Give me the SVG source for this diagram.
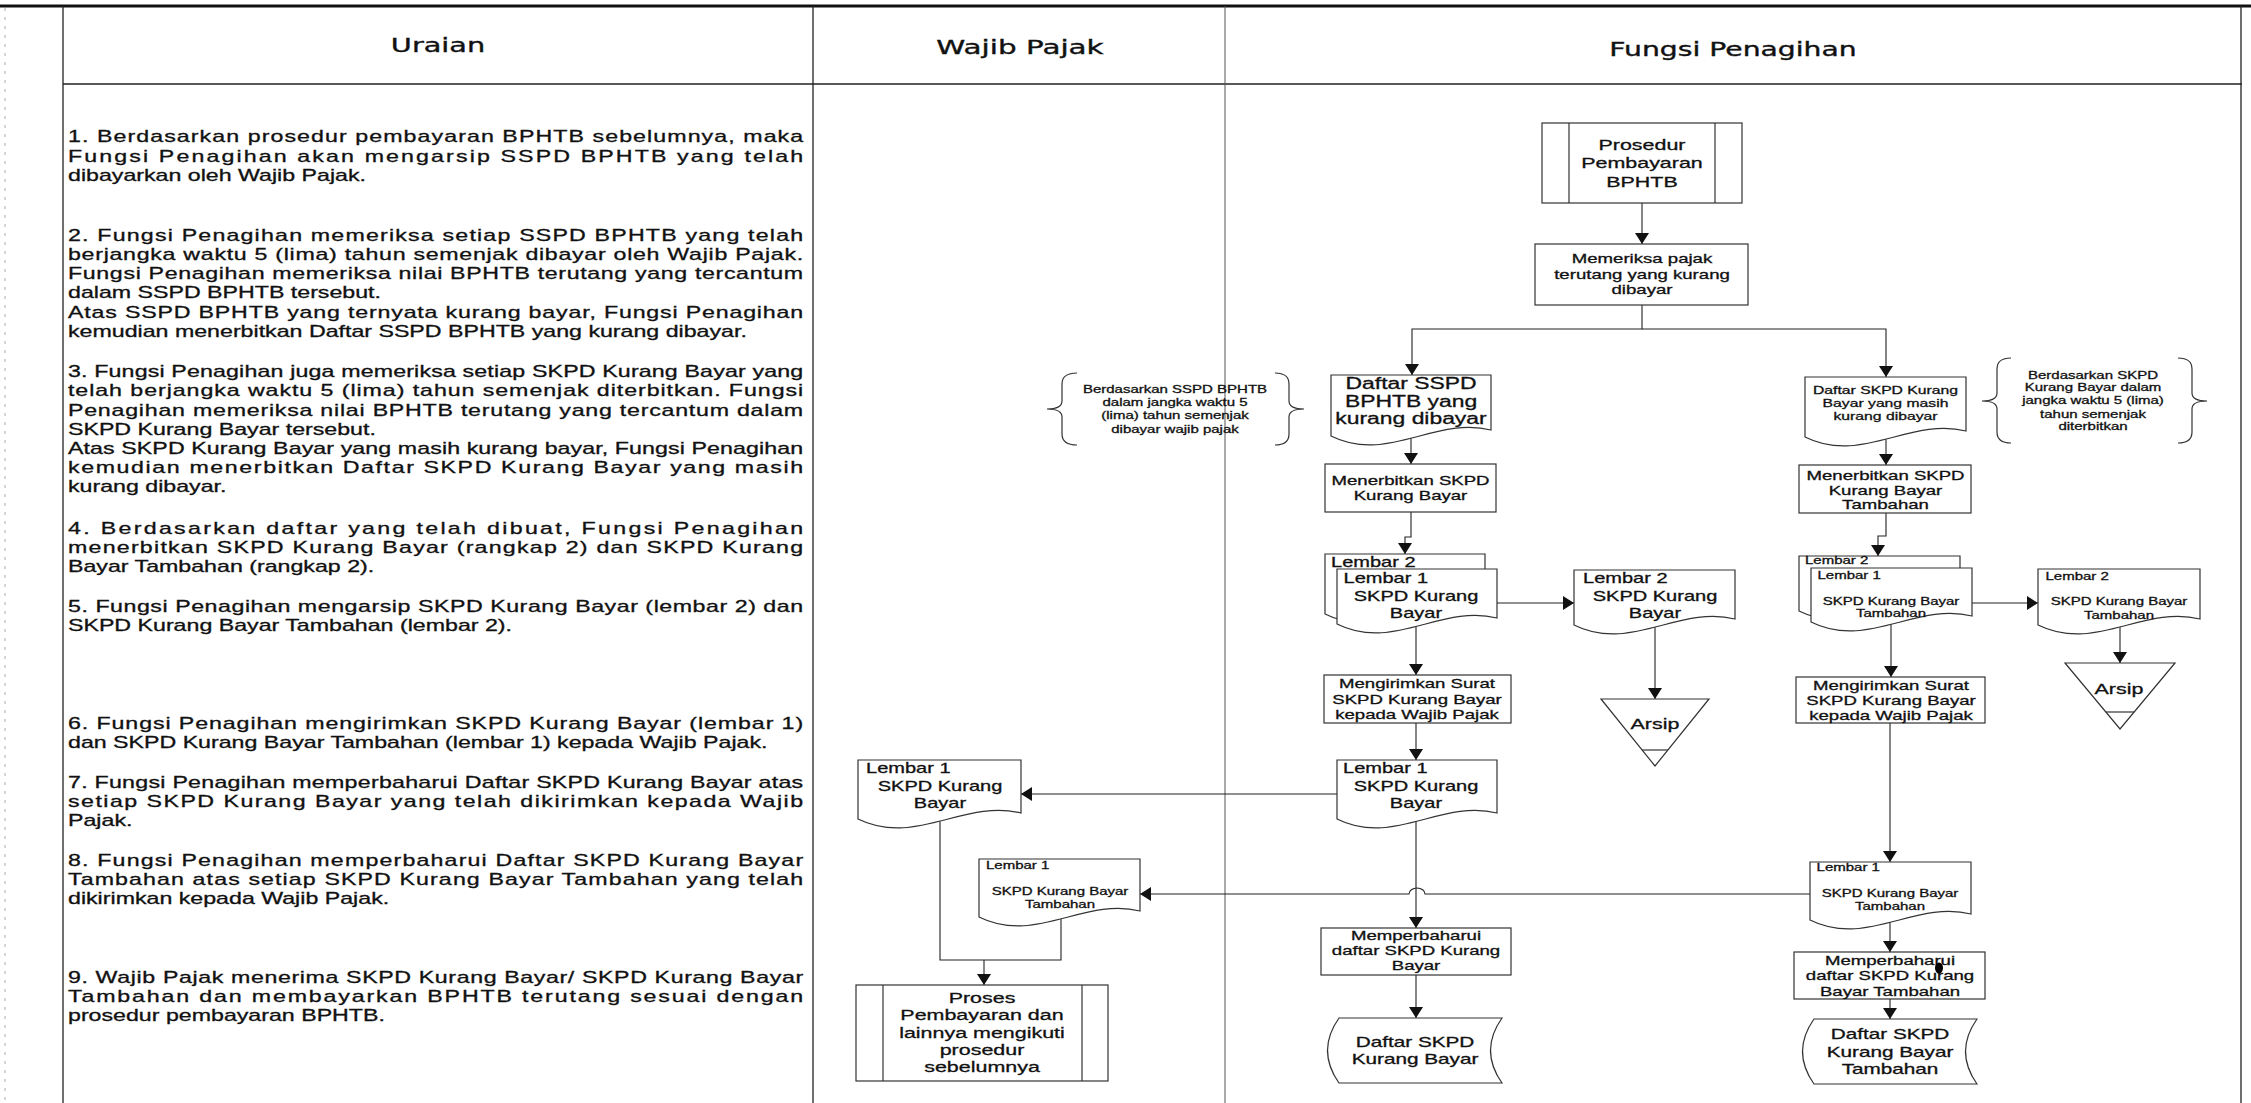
<svg xmlns="http://www.w3.org/2000/svg" width="2251" height="1103" viewBox="0 0 2251 1103">
<style>
.ln{stroke:#222;stroke-width:1.3;fill:none}
.ln2{stroke:#555;stroke-width:1;fill:none}
.art{stroke:#aaa;stroke-width:1;stroke-dasharray:3 6;fill:none}
.sh{stroke:#333;stroke-width:1.2;fill:#fff}
.br{stroke:#333;stroke-width:1.2;fill:none}
.cn{stroke:#222;stroke-width:1.1;fill:none}
.ca{stroke:#222;stroke-width:1.1;fill:none;marker-end:url(#ah)}
.h{font-family:"DejaVu Sans","Liberation Sans",sans-serif;font-size:19px;fill:#111;stroke:#111;stroke-width:0.35;text-anchor:middle}
.b{font-family:"Liberation Sans",Arial,sans-serif;font-size:16px;fill:#111;stroke:#111;stroke-width:0.3}
.t{font-family:"Liberation Sans",Arial,sans-serif;fill:#111;stroke:#111;stroke-width:0.3;text-anchor:middle}
.s{text-anchor:start}
</style>
<defs>
<marker id="ah" markerUnits="userSpaceOnUse" markerWidth="11" markerHeight="14" refX="11" refY="7" orient="auto">
<path d="M0,0 L11,7 L0,14 Z" fill="#111"/>
</marker>
</defs>
<rect width="2251" height="1103" fill="#fff"/>

<g id="table">
<line class="art" x1="5" y1="8" x2="5" y2="1103"/>
<line x1="0" y1="6" x2="2251" y2="6" stroke="#111" stroke-width="3"/>
<line class="ln" x1="63" y1="84" x2="2242" y2="84"/>
<line class="ln" x1="63" y1="6" x2="63" y2="1103"/>
<line class="ln" x1="813" y1="6" x2="813" y2="1103"/>
<line class="ln2" x1="1225" y1="6" x2="1225" y2="1103"/>
<line class="ln" x1="2241" y1="6" x2="2241" y2="1103" stroke-width="1.6"/>
<text class="h" transform="translate(438,0) scale(1.43,1)" x="0" y="52" textLength="66" lengthAdjust="spacingAndGlyphs">Uraian</text>
<text class="h" transform="translate(1020,0) scale(1.43,1)" x="0" y="54" textLength="117" lengthAdjust="spacingAndGlyphs">Wajib Pajak</text>
<text class="h" transform="translate(1733,0) scale(1.43,1)" x="0" y="56" textLength="173" lengthAdjust="spacingAndGlyphs">Fungsi Penagihan</text>
</g>

<g id="uraian" class="b" transform="translate(68,0) scale(1.45,1)">
<text x="0" y="142.5" textLength="507">1. Berdasarkan prosedur pembayaran BPHTB sebelumnya, maka</text>
<text x="0" y="161.7" textLength="507">Fungsi Penagihan akan mengarsip SSPD BPHTB yang telah</text>
<text x="0" y="180.9">dibayarkan oleh Wajib Pajak.</text>
<text x="0" y="240.8" textLength="507">2. Fungsi Penagihan memeriksa setiap SSPD BPHTB yang telah</text>
<text x="0" y="260" textLength="507">berjangka waktu 5 (lima) tahun semenjak dibayar oleh Wajib Pajak.</text>
<text x="0" y="279.2" textLength="507">Fungsi Penagihan memeriksa nilai BPHTB terutang yang tercantum</text>
<text x="0" y="298.4">dalam SSPD BPHTB tersebut.</text>
<text x="0" y="317.6" textLength="507">Atas SSPD BPHTB yang ternyata kurang bayar, Fungsi Penagihan</text>
<text x="0" y="336.8">kemudian menerbitkan Daftar SSPD BPHTB yang kurang dibayar.</text>
<text x="0" y="377.3" textLength="507">3. Fungsi Penagihan juga memeriksa setiap SKPD Kurang Bayar yang</text>
<text x="0" y="396.5" textLength="507">telah berjangka waktu 5 (lima) tahun semenjak diterbitkan. Fungsi</text>
<text x="0" y="415.7" textLength="507">Penagihan memeriksa nilai BPHTB terutang yang tercantum dalam</text>
<text x="0" y="434.9">SKPD Kurang Bayar tersebut.</text>
<text x="0" y="454.1" textLength="507">Atas SKPD Kurang Bayar yang masih kurang bayar, Fungsi Penagihan</text>
<text x="0" y="473.3" textLength="507">kemudian menerbitkan Daftar SKPD Kurang Bayar yang masih</text>
<text x="0" y="492.5">kurang dibayar.</text>
<text x="0" y="533.8" textLength="507">4. Berdasarkan daftar yang telah dibuat, Fungsi Penagihan</text>
<text x="0" y="553" textLength="507">menerbitkan SKPD Kurang Bayar (rangkap 2) dan SKPD Kurang</text>
<text x="0" y="572.2">Bayar Tambahan (rangkap 2).</text>
<text x="0" y="611.8" textLength="507">5. Fungsi Penagihan mengarsip SKPD Kurang Bayar (lembar 2) dan</text>
<text x="0" y="631">SKPD Kurang Bayar Tambahan (lembar 2).</text>
<text x="0" y="729.3" textLength="507">6. Fungsi Penagihan mengirimkan SKPD Kurang Bayar (lembar 1)</text>
<text x="0" y="748.5">dan SKPD Kurang Bayar Tambahan (lembar 1) kepada Wajib Pajak.</text>
<text x="0" y="787.8" textLength="507">7. Fungsi Penagihan memperbaharui Daftar SKPD Kurang Bayar atas</text>
<text x="0" y="807" textLength="507">setiap SKPD Kurang Bayar yang telah dikirimkan kepada Wajib</text>
<text x="0" y="826.2">Pajak.</text>
<text x="0" y="865.8" textLength="507">8. Fungsi Penagihan memperbaharui Daftar SKPD Kurang Bayar</text>
<text x="0" y="885" textLength="507">Tambahan atas setiap SKPD Kurang Bayar Tambahan yang telah</text>
<text x="0" y="904.2">dikirimkan kepada Wajib Pajak.</text>
<text x="0" y="982.8" textLength="507">9. Wajib Pajak menerima SKPD Kurang Bayar/ SKPD Kurang Bayar</text>
<text x="0" y="1002" textLength="507">Tambahan dan membayarkan BPHTB terutang sesuai dengan</text>
<text x="0" y="1021.2">prosedur pembayaran BPHTB.</text>
</g>

<g id="connectors">
<path class="ca" d="M1642,203 V244"/>
<path class="ca" d="M1642,305 V329 H1412 V375"/>
<path class="ca" d="M1642,329 H1886 V377"/>
<path class="ca" d="M1411,436 V464"/>
<path class="ca" d="M1411,512 V537 H1405 V554"/>
<path class="ca" d="M1497,603 H1574"/>
<path class="ca" d="M1655,622 V699"/>
<path class="ca" d="M1416,624 V675"/>
<path class="ca" d="M1416,723 V760"/>
<path class="ca" d="M1337,794 H1021"/>
<path class="ca" d="M1416,819 V928"/>
<path class="ca" d="M1416,975 V1018"/>
<path class="ca" d="M1886,437 V465"/>
<path class="ca" d="M1886,513 V536 H1878 V556"/>
<path class="ca" d="M1972,603 H2038"/>
<path class="ca" d="M2120,622 V663"/>
<path class="ca" d="M1891,622 V677"/>
<path class="ca" d="M1890,723 V862"/>
<path class="ca" d="M1810,894 H1425 A8,6 0 0 0 1409,894 H1140"/>
<path class="ca" d="M1890,920 V952"/>
<path class="ca" d="M1890,999 V1019"/>
<path class="cn" d="M1061,915 V960 H940 V819"/>
<path class="ca" d="M984,960 V985"/>
</g>

<g id="n-prosedur">
<rect class="sh" x="1542" y="123" width="200" height="80"/>
<line class="br" x1="1569" y1="123" x2="1569" y2="203"/>
<line class="br" x1="1715" y1="123" x2="1715" y2="203"/>
<text class="t" font-size="15" transform="translate(1642,0) scale(1.43,1)"><tspan x="0" y="150.4">Prosedur</tspan><tspan x="0" y="168">Pembayaran</tspan><tspan x="0" y="187">BPHTB</tspan></text>
</g>

<g id="n-memeriksa">
<rect class="sh" x="1535" y="244" width="213" height="61"/>
<text class="t" font-size="13" transform="translate(1642,0) scale(1.43,1)"><tspan x="0" y="263.4">Memeriksa pajak</tspan><tspan x="0" y="279">terutang yang kurang</tspan><tspan x="0" y="294">dibayar</tspan></text>
</g>

<g id="n-daftar-sspd">
<path class="sh" d="M1331,375 H1491 V430 C1435,416 1387,464 1331,436 Z"/>
<text class="t" font-size="16" transform="translate(1411,0) scale(1.43,1)"><tspan x="0" y="389">Daftar SSPD</tspan><tspan x="0" y="406.8">BPHTB yang</tspan><tspan x="0" y="424">kurang dibayar</tspan></text>
</g>

<g id="n-note-sspd">
<path class="br" d="M1077,373 Q1062,373 1062,384 V401 Q1062,409 1047,409 Q1062,409 1062,417 V434 Q1062,445 1077,445"/>
<path class="br" d="M1275,373 Q1289,373 1289,384 V401 Q1289,409 1304,409 Q1289,409 1289,417 V434 Q1289,445 1275,445"/>
<text class="t" font-size="10.5" transform="translate(1175,0) scale(1.43,1)"><tspan x="0" y="393.1">Berdasarkan SSPD BPHTB</tspan><tspan x="0" y="406.5">dalam jangka waktu 5</tspan><tspan x="0" y="419.5">(lima) tahun semenjak</tspan><tspan x="0" y="432.8">dibayar wajib pajak</tspan></text>
</g>

<g id="n-menerbitkan-kb">
<rect class="sh" x="1325" y="464" width="171" height="48"/>
<text class="t" font-size="13" transform="translate(1410.5,0) scale(1.43,1)"><tspan x="0" y="485.4">Menerbitkan SKPD</tspan><tspan x="0" y="500.4">Kurang Bayar</tspan></text>
</g>

<g id="n-skpd-kb-rangkap">
<path class="sh" d="M1325,554 H1485 V608 C1429,594 1381,642 1325,614 Z"/>
<path class="sh" d="M1337,569 H1497 V618 C1441,604 1393,652 1337,624 Z"/>
<text class="t s" font-size="14" transform="translate(1331,0) scale(1.43,1)" x="0" y="567.3">Lembar 2</text>
<text class="t s" font-size="14" transform="translate(1343.5,0) scale(1.43,1)" x="0" y="583.3">Lembar 1</text>
<text class="t" font-size="14" transform="translate(1416,0) scale(1.43,1)"><tspan x="0" y="600.7">SKPD Kurang</tspan><tspan x="0" y="617.7">Bayar</tspan></text>
</g>

<g id="n-skpd-kb-l2">
<path class="sh" d="M1574,570 H1735 V619 C1679,605 1630,653 1574,625 Z"/>
<text class="t s" font-size="14" transform="translate(1583,0) scale(1.43,1)" x="0" y="583.3">Lembar 2</text>
<text class="t" font-size="14" transform="translate(1655,0) scale(1.43,1)"><tspan x="0" y="600.7">SKPD Kurang</tspan><tspan x="0" y="617.7">Bayar</tspan></text>
</g>

<g id="n-arsip-1">
<path class="sh" d="M1601,699 H1709 L1655,766 Z"/>
<line class="br" x1="1642" y1="750" x2="1668" y2="750"/>
<text class="t" font-size="15" transform="translate(1655,0) scale(1.43,1)" x="0" y="729.4">Arsip</text>
</g>

<g id="n-kirim-kb">
<rect class="sh" x="1324" y="675" width="187" height="48"/>
<text class="t" font-size="13" transform="translate(1417,0) scale(1.43,1)"><tspan x="0" y="688">Mengirimkan Surat</tspan><tspan x="0" y="703.7">SKPD Kurang Bayar</tspan><tspan x="0" y="718.7">kepada Wajib Pajak</tspan></text>
</g>

<g id="n-skpd-kb-l1">
<path class="sh" d="M1337,760 H1497 V813 C1441,799 1393,847 1337,819 Z"/>
<text class="t s" font-size="14" transform="translate(1343,0) scale(1.43,1)" x="0" y="773.3">Lembar 1</text>
<text class="t" font-size="14" transform="translate(1416,0) scale(1.43,1)"><tspan x="0" y="791">SKPD Kurang</tspan><tspan x="0" y="808.3">Bayar</tspan></text>
</g>

<g id="n-wp-skpd-kb">
<path class="sh" d="M858,760 H1021 V813 C964,799 915,847 858,819 Z"/>
<text class="t s" font-size="14" transform="translate(866,0) scale(1.43,1)" x="0" y="773.3">Lembar 1</text>
<text class="t" font-size="14" transform="translate(940,0) scale(1.43,1)"><tspan x="0" y="791">SKPD Kurang</tspan><tspan x="0" y="808.3">Bayar</tspan></text>
</g>

<g id="n-update-kb">
<rect class="sh" x="1321" y="928" width="190" height="47"/>
<text class="t" font-size="13" transform="translate(1416,0) scale(1.43,1)"><tspan x="0" y="940.4">Memperbaharui</tspan><tspan x="0" y="955.4">daftar SKPD Kurang</tspan><tspan x="0" y="970.4">Bayar</tspan></text>
</g>

<g id="n-daftar-kb">
<path class="sh" d="M1339,1018 H1502 Q1479,1050.5 1502,1083 H1339 Q1316,1050.5 1339,1018 Z"/>
<text class="t" font-size="14.5" transform="translate(1415,0) scale(1.43,1)"><tspan x="0" y="1047">Daftar SKPD</tspan><tspan x="0" y="1064.5">Kurang Bayar</tspan></text>
</g>

<g id="n-wp-skpd-kbt">
<path class="sh" d="M979,859 H1140 V911 C1084,897 1035,945 979,917 Z"/>
<text class="t s" font-size="10.5" transform="translate(986,0) scale(1.43,1)" x="0" y="868.8">Lembar 1</text>
<text class="t" font-size="10.5" transform="translate(1060,0) scale(1.43,1)"><tspan x="0" y="895.5">SKPD Kurang Bayar</tspan><tspan x="0" y="907.8">Tambahan</tspan></text>
</g>

<g id="n-proses">
<rect class="sh" x="856" y="985" width="252" height="96"/>
<line class="br" x1="883" y1="985" x2="883" y2="1081"/>
<line class="br" x1="1082" y1="985" x2="1082" y2="1081"/>
<text class="t" font-size="15" transform="translate(982,0) scale(1.43,1)"><tspan x="0" y="1002.7">Proses</tspan><tspan x="0" y="1020.4">Pembayaran dan</tspan><tspan x="0" y="1038">lainnya mengikuti</tspan><tspan x="0" y="1054.7">prosedur</tspan><tspan x="0" y="1072">sebelumnya</tspan></text>
</g>

<g id="n-daftar-skpd-masih">
<path class="sh" d="M1805,377 H1966 V431 C1910,417 1861,465 1805,437 Z"/>
<text class="t" font-size="11" transform="translate(1885.5,0) scale(1.43,1)"><tspan x="0" y="394">Daftar SKPD Kurang</tspan><tspan x="0" y="406.7">Bayar yang masih</tspan><tspan x="0" y="419.7">kurang dibayar</tspan></text>
</g>

<g id="n-note-skpd">
<path class="br" d="M2011,358 Q1997,358 1997,369 V393 Q1997,401 1982,401 Q1997,401 1997,409 V432 Q1997,443 2011,443"/>
<path class="br" d="M2178,358 Q2192,358 2192,369 V393 Q2192,401 2207,401 Q2192,401 2192,409 V432 Q2192,443 2178,443"/>
<text class="t" font-size="10.5" transform="translate(2093,0) scale(1.43,1)"><tspan x="0" y="378.8">Berdasarkan SKPD</tspan><tspan x="0" y="391">Kurang Bayar  dalam</tspan><tspan x="0" y="404.5">jangka waktu 5 (lima)</tspan><tspan x="0" y="417.8">tahun semenjak</tspan><tspan x="0" y="430.5">diterbitkan</tspan></text>
</g>

<g id="n-menerbitkan-kbt">
<rect class="sh" x="1799" y="465" width="172" height="48"/>
<text class="t" font-size="13" transform="translate(1885.5,0) scale(1.43,1)"><tspan x="0" y="479.7">Menerbitkan SKPD</tspan><tspan x="0" y="494.7">Kurang Bayar</tspan><tspan x="0" y="508.7">Tambahan</tspan></text>
</g>

<g id="n-skpd-kbt-rangkap">
<path class="sh" d="M1799,556 H1960 V605 C1904,591 1855,639 1799,611 Z"/>
<path class="sh" d="M1811,568 H1972 V616 C1916,602 1867,650 1811,622 Z"/>
<text class="t s" font-size="10.5" transform="translate(1805,0) scale(1.43,1)" x="0" y="564.5">Lembar 2</text>
<text class="t s" font-size="10.5" transform="translate(1817.5,0) scale(1.43,1)" x="0" y="578.8">Lembar 1</text>
<text class="t" font-size="10.5" transform="translate(1891,0) scale(1.43,1)"><tspan x="0" y="604.8">SKPD Kurang Bayar</tspan><tspan x="0" y="617.1">Tambahan</tspan></text>
</g>

<g id="n-skpd-kbt-l2">
<path class="sh" d="M2038,569 H2200 V619 C2143,605 2095,653 2038,625 Z"/>
<text class="t s" font-size="10.5" transform="translate(2045.5,0) scale(1.43,1)" x="0" y="579.8">Lembar 2</text>
<text class="t" font-size="10.5" transform="translate(2119,0) scale(1.43,1)"><tspan x="0" y="605.5">SKPD Kurang Bayar</tspan><tspan x="0" y="618.8">Tambahan</tspan></text>
</g>

<g id="n-arsip-2">
<path class="sh" d="M2065,663 H2175 L2120,729 Z"/>
<line class="br" x1="2106" y1="712" x2="2134" y2="712"/>
<text class="t" font-size="15" transform="translate(2119,0) scale(1.43,1)" x="0" y="693.7">Arsip</text>
</g>

<g id="n-kirim-kbt">
<rect class="sh" x="1796" y="677" width="189" height="46"/>
<text class="t" font-size="13" transform="translate(1891,0) scale(1.43,1)"><tspan x="0" y="689.7">Mengirimkan Surat</tspan><tspan x="0" y="704.7">SKPD Kurang Bayar</tspan><tspan x="0" y="719.7">kepada Wajib Pajak</tspan></text>
</g>

<g id="n-skpd-kbt-l1">
<path class="sh" d="M1810,862 H1971 V914 C1915,900 1866,948 1810,920 Z"/>
<text class="t s" font-size="10.5" transform="translate(1816.6,0) scale(1.43,1)" x="0" y="871">Lembar 1</text>
<text class="t" font-size="10.5" transform="translate(1890,0) scale(1.43,1)"><tspan x="0" y="897">SKPD Kurang Bayar</tspan><tspan x="0" y="909.8">Tambahan</tspan></text>
</g>

<g id="n-update-kbt">
<rect class="sh" x="1794" y="952" width="191" height="47"/>
<text class="t" font-size="13" transform="translate(1890,0) scale(1.43,1)"><tspan x="0" y="964.7">Memperbaharui</tspan><tspan x="0" y="980.4">daftar SKPD Kurang</tspan><tspan x="0" y="995.7">Bayar Tambahan</tspan></text>
<ellipse cx="1939" cy="968" rx="4" ry="5.5" fill="#000"/>
</g>

<g id="n-daftar-kbt">
<path class="sh" d="M1814,1019 H1977 Q1954,1051.5 1977,1084 H1814 Q1791,1051.5 1814,1019 Z"/>
<text class="t" font-size="14.5" transform="translate(1890,0) scale(1.43,1)"><tspan x="0" y="1039.5">Daftar SKPD</tspan><tspan x="0" y="1056.9">Kurang Bayar</tspan><tspan x="0" y="1074.5">Tambahan</tspan></text>
</g>
</svg>
